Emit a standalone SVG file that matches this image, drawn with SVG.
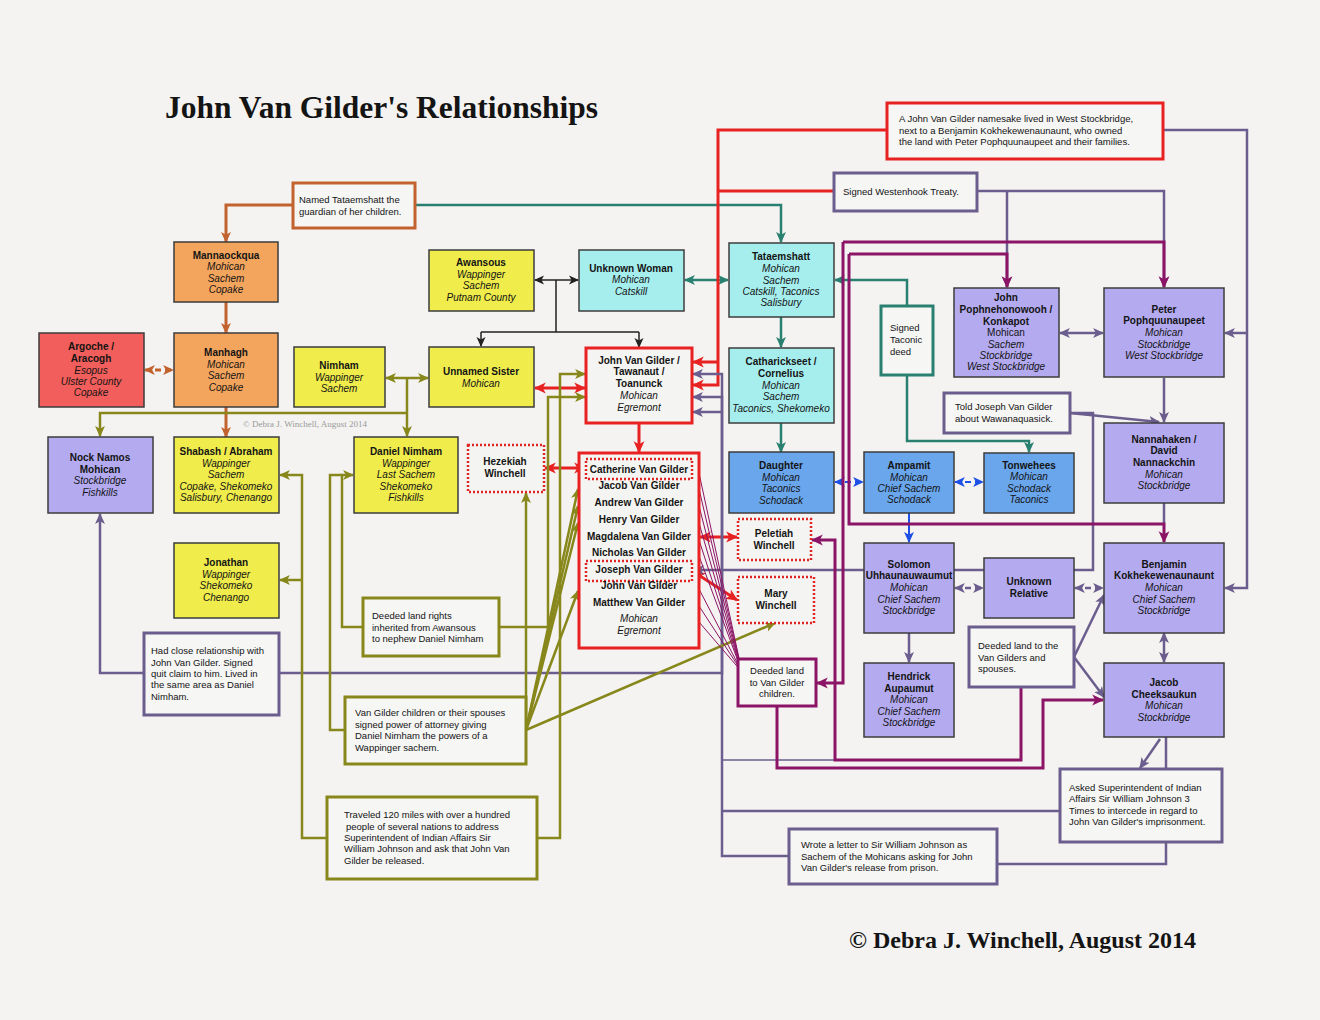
<svg xmlns="http://www.w3.org/2000/svg" width="1320" height="1020" viewBox="0 0 1320 1020">
<defs>
<style>
text{font-family:"Liberation Sans",Arial,sans-serif;font-size:10px;fill:#141414}
.c text{text-anchor:middle}
.b{font-weight:bold}
.i{font-style:italic}
.box{stroke:#3c3c3c;stroke-width:1.5}
.or{fill:#f3a55e}.rd{fill:#f25e5b}.ye{fill:#efec4c}.cy{fill:#a6eeee}.bl{fill:#6aa6ec}.pu{fill:#b3aaf0}
.note rect{fill:#f6f6f4;stroke-width:3}
.note text{font-size:9.5px}
.dot{fill:none;stroke:#e02424;stroke-width:2.5;stroke-dasharray:2 2}
#connectors path{fill:none}
.kOr{stroke:#c2622e;stroke-width:3}
.kTe{stroke:#2a8070;stroke-width:2.5}
.kBk{stroke:#222;stroke-width:1.5}
.kRd{stroke:#e82222;stroke-width:3}
.kPu{stroke:#6b5e8e;stroke-width:2.5}
.kBl{stroke:#1f50e6;stroke-width:2}
.kOl{stroke:#87871b;stroke-width:2.5}
.kMg{stroke:#8c1466;stroke-width:3}
.thin{stroke:#8c1466;stroke-width:1}
.dash{stroke-dasharray:6 4}
</style>
<marker id="mOr" viewBox="0 0 10 10" refX="9" refY="5" markerWidth="11" markerHeight="11" markerUnits="userSpaceOnUse" orient="auto-start-reverse"><path d="M0,0.5 L10,5 L0,9.5 L2.5,5z" fill="#c2622e"/></marker>
<marker id="mTe" viewBox="0 0 10 10" refX="9" refY="5" markerWidth="11" markerHeight="11" markerUnits="userSpaceOnUse" orient="auto-start-reverse"><path d="M0,0.5 L10,5 L0,9.5 L2.5,5z" fill="#2a8070"/></marker>
<marker id="mBk" viewBox="0 0 10 10" refX="9" refY="5" markerWidth="10" markerHeight="10" markerUnits="userSpaceOnUse" orient="auto-start-reverse"><path d="M0,0.5 L10,5 L0,9.5 L2.5,5z" fill="#222"/></marker>
<marker id="mRd" viewBox="0 0 10 10" refX="9" refY="5" markerWidth="12" markerHeight="12" markerUnits="userSpaceOnUse" orient="auto-start-reverse"><path d="M0,0.5 L10,5 L0,9.5 L2.5,5z" fill="#e82222"/></marker>
<marker id="mPu" viewBox="0 0 10 10" refX="9" refY="5" markerWidth="11" markerHeight="11" markerUnits="userSpaceOnUse" orient="auto-start-reverse"><path d="M0,0.5 L10,5 L0,9.5 L2.5,5z" fill="#6b5e8e"/></marker>
<marker id="mBl" viewBox="0 0 10 10" refX="9" refY="5" markerWidth="11" markerHeight="11" markerUnits="userSpaceOnUse" orient="auto-start-reverse"><path d="M0,0.5 L10,5 L0,9.5 L2.5,5z" fill="#1f50e6"/></marker>
<marker id="mOl" viewBox="0 0 10 10" refX="9" refY="5" markerWidth="11" markerHeight="11" markerUnits="userSpaceOnUse" orient="auto-start-reverse"><path d="M0,0.5 L10,5 L0,9.5 L2.5,5z" fill="#87871b"/></marker>
<marker id="mMg" viewBox="0 0 10 10" refX="9" refY="5" markerWidth="12" markerHeight="12" markerUnits="userSpaceOnUse" orient="auto-start-reverse"><path d="M0,0.5 L10,5 L0,9.5 L2.5,5z" fill="#8c1466"/></marker>
</defs>
<rect width="1320" height="1020" fill="#f4f3f1"/>
<text x="165" y="118" style="font-family:'Liberation Serif',serif;font-size:31px;font-weight:bold" textLength="433" lengthAdjust="spacingAndGlyphs">John Van Gilder's Relationships</text>
<text x="849" y="948" style="font-family:'Liberation Serif',serif;font-size:23px;font-weight:bold" textLength="347" lengthAdjust="spacingAndGlyphs">© Debra J. Winchell, August 2014</text>
<text x="243" y="427" style="font-family:'Liberation Serif',serif;font-size:9px;fill:#9a9a9a">© Debra J. Winchell, August 2014</text>

<g id="connectors">
<path class="kOr" d="M293,205 H226 V242" marker-end="url(#mOr)"/>
<path class="kOr" d="M226,302 V333" marker-end="url(#mOr)"/>
<path class="kOr" d="M226,407 V437" marker-end="url(#mOr)"/>
<path class="kOr dash" d="M145,370 H173" marker-start="url(#mOr)" marker-end="url(#mOr)"/>

<path class="kTe" d="M415,205 H781 V242" marker-end="url(#mTe)"/>
<path class="kTe" d="M781,317 V347" marker-end="url(#mTe)"/>
<path class="kTe" d="M781,423 V452" marker-end="url(#mTe)"/>
<path class="kTe" d="M685,280 H728" marker-start="url(#mTe)" marker-end="url(#mTe)"/>
<path class="kTe" d="M907,306 V280 H835" marker-end="url(#mTe)"/>
<path class="kTe" d="M907,375 V441 H1029 V452" marker-end="url(#mTe)"/>

<path class="kBk" d="M535,280 H578" marker-start="url(#mBk)" marker-end="url(#mBk)"/>
<path class="kBk" d="M556,280 V332 M481,332 H639"/>
<path class="kBk" d="M481,332 V346" marker-end="url(#mBk)"/>
<path class="kBk" d="M639,332 V347" marker-end="url(#mBk)"/>

<path class="kRd" d="M535,388 H585" marker-start="url(#mRd)" marker-end="url(#mRd)"/>
<path class="kRd" d="M639,423 V452" marker-end="url(#mRd)"/>
<path class="kRd" d="M545,468 H585" marker-start="url(#mRd)" marker-end="url(#mRd)"/>
<path class="kRd" d="M887,130 H718 V385 H693" marker-end="url(#mRd)"/>
<path class="kRd" d="M834,191 H718"/>
<path class="kRd" d="M718,362 H693" marker-end="url(#mRd)"/>
<path class="kRd" d="M700,537 H737" marker-start="url(#mRd)" marker-end="url(#mRd)"/>
<path class="kRd" d="M694,572 L737,600" marker-start="url(#mRd)" marker-end="url(#mRd)"/>

<path class="kPu" d="M977,191 H1164 V287" marker-end="url(#mPu)"/>
<path class="kPu" d="M1007,191 V287" marker-end="url(#mPu)"/>
<path class="kPu" d="M1164,130 H1247 V588 H1225" marker-end="url(#mPu)"/>
<path class="kPu" d="M1247,333 H1225" marker-end="url(#mPu)"/>
<path class="kPu" d="M1060,333 H1103" marker-start="url(#mPu)" marker-end="url(#mPu)"/>
<path class="kPu" d="M1164,378 V422" marker-end="url(#mPu)"/>
<path class="kPu" d="M1164,503 V523"/>
<path class="kPu" d="M1164,633 V662" marker-start="url(#mPu)" marker-end="url(#mPu)"/>
<path class="kPu" d="M1166,737 V769 M1166,843 V864 H998"/>
<path class="kPu" d="M1160,739 L1140,768" marker-end="url(#mPu)"/>
<path class="kPu" d="M1070,413 L1159,422" marker-end="url(#mPu)"/>
<path class="kPu" d="M1070,413 H1093 V570 H694" marker-end="url(#mPu)"/>
<path class="kPu dash" d="M955,588 H983" marker-start="url(#mPu)" marker-end="url(#mPu)"/>
<path class="kPu dash" d="M1075,588 H1103" marker-start="url(#mPu)" marker-end="url(#mPu)"/>
<path class="kPu" d="M909,633 V662" marker-end="url(#mPu)"/>
<path class="kPu" d="M1074,657 L1104,595" marker-end="url(#mPu)"/>
<path class="kPu" d="M1074,657 L1104,697" marker-end="url(#mPu)"/>
<path class="kPu" d="M144,673 H100 V514" marker-end="url(#mPu)"/>
<path class="kPu" d="M279,673 H722 V374 H693" marker-end="url(#mPu)"/>
<path class="kPu" d="M1059,811 H722"/>
<path class="kPu" d="M788,856 H722 V397 H693" marker-end="url(#mPu)"/>
<path class="kPu" d="M722,412 H693" marker-end="url(#mPu)"/>
<path class="kPu" style="stroke-width:1.5" d="M722,760 H835"/>

<path class="kBl dash" d="M835,482 H863" marker-start="url(#mBl)" marker-end="url(#mBl)"/>
<path class="kBl dash" d="M955,482 H983" marker-start="url(#mBl)" marker-end="url(#mBl)"/>
<path class="kBl" d="M909,513 V542" marker-end="url(#mBl)"/>

<path class="kOl" d="M386,378 H428" marker-start="url(#mOl)" marker-end="url(#mOl)"/>
<path class="kOl" d="M407,378 V436" marker-end="url(#mOl)"/>
<path class="kOl" d="M407,413 H100 V436" marker-end="url(#mOl)"/>
<path class="kOl" d="M326,838 H302 V475 H280" marker-end="url(#mOl)"/>
<path class="kOl" d="M302,580 H280" marker-end="url(#mOl)"/>
<path class="kOl" d="M537,838 H560 V374 H585" marker-end="url(#mOl)"/>
<path class="kOl" d="M363,627 H342 V475 H353" marker-end="url(#mOl)"/>
<path class="kOl" d="M345,730 H330 V475 H342"/>
<path class="kOl" d="M499,627 H548 V397 H585" marker-end="url(#mOl)"/>
<path class="kOl" d="M526,730 V493" marker-end="url(#mOl)"/>
<path class="kOl" d="M526,730 L578,489" marker-end="url(#mOl)"/>
<path class="kOl" d="M526,730 L578,506" marker-end="url(#mOl)"/>
<path class="kOl" d="M526,730 L578,523" marker-end="url(#mOl)"/>
<path class="kOl" d="M526,730 L578,591" marker-end="url(#mOl)"/>
<path class="kOl" d="M526,730 L775,623" marker-end="url(#mOl)"/>

<path class="kMg" d="M843,242 H1164 V287" marker-end="url(#mMg)"/>
<path class="kMg" d="M843,242 V683 H817" marker-end="url(#mMg)"/>
<path class="kMg" d="M849,254 H1007 V287" marker-end="url(#mMg)"/>
<path class="kMg" d="M849,254 V524 H1164 V542" marker-end="url(#mMg)"/>
<path class="kMg" d="M777,707 V768 H1043 V700 H1103" marker-end="url(#mMg)"/>
<path class="kMg" d="M1021,688 V760 H835 V540 H812" marker-end="url(#mMg)"/>
<path class="thin" d="M699,473 L742,672 M699,489 L742,672 M699,506 L742,672 M699,523 L742,672 M699,540 L742,672 M699,556 L742,672 M699,589 L742,672 M699,606 L742,672 M699,622 L742,672"/>
</g>

<g id="n-mannaockqua" class="c"><rect class="box or" x="174" y="242" width="104" height="60"/>
<text x="226" y="259" class="b">Mannaockqua</text><text x="226" y="270" class="i">Mohican</text><text x="226" y="282" class="i">Sachem</text><text x="226" y="293" class="i">Copake</text></g>

<g id="n-manhagh" class="c"><rect class="box or" x="174" y="333" width="104" height="74"/>
<text x="226" y="356" class="b">Manhagh</text><text x="226" y="368" class="i">Mohican</text><text x="226" y="379" class="i">Sachem</text><text x="226" y="391" class="i">Copake</text></g>

<g id="n-argoche" class="c"><rect class="box rd" x="39" y="333" width="105" height="74"/>
<text x="91" y="350" class="b">Argoche /</text><text x="91" y="362" class="b">Aracogh</text><text x="91" y="374" class="i">Esopus</text><text x="91" y="385" class="i">Ulster County</text><text x="91" y="396" class="i">Copake</text></g>

<g id="n-nimham" class="c"><rect class="box ye" x="294" y="347" width="91" height="60"/>
<text x="339" y="369" class="b">Nimham</text><text x="339" y="381" class="i">Wappinger</text><text x="339" y="392" class="i">Sachem</text></g>

<g id="n-awansous" class="c"><rect class="box ye" x="429" y="250" width="105" height="61"/>
<text x="481" y="266" class="b">Awansous</text><text x="481" y="278" class="i">Wappinger</text><text x="481" y="289" class="i">Sachem</text><text x="481" y="301" class="i">Putnam County</text></g>

<g id="n-unnamed-sister" class="c"><rect class="box ye" x="429" y="347" width="105" height="60"/>
<text x="481" y="375" class="b">Unnamed Sister</text><text x="481" y="387" class="i">Mohican</text></g>

<g id="n-nock-namos" class="c"><rect class="box pu" x="48" y="437" width="105" height="76"/>
<text x="100" y="461" class="b">Nock Namos</text><text x="100" y="473" class="b">Mohican</text><text x="100" y="484" class="i">Stockbridge</text><text x="100" y="496" class="i">Fishkills</text></g>

<g id="n-shabash" class="c"><rect class="box ye" x="174" y="437" width="105" height="76"/>
<text x="226" y="455" class="b">Shabash / Abraham</text><text x="226" y="467" class="i">Wappinger</text><text x="226" y="478" class="i">Sachem</text><text x="226" y="490" class="i">Copake, Shekomeko</text><text x="226" y="501" class="i">Salisbury, Chenango</text></g>

<g id="n-daniel-nimham" class="c"><rect class="box ye" x="354" y="437" width="104" height="76"/>
<text x="406" y="455" class="b">Daniel Nimham</text><text x="406" y="467" class="i">Wappinger</text><text x="406" y="478" class="i">Last Sachem</text><text x="406" y="490" class="i">Shekomeko</text><text x="406" y="501" class="i">Fishkills</text></g>

<g id="n-jonathan" class="c"><rect class="box ye" x="174" y="543" width="105" height="75"/>
<text x="226" y="566" class="b">Jonathan</text><text x="226" y="578" class="i">Wappinger</text><text x="226" y="589" class="i">Shekomeko</text><text x="226" y="601" class="i">Chenango</text></g>

<g id="n-unknown-woman" class="c"><rect class="box cy" x="579" y="250" width="105" height="61"/>
<text x="631" y="272" class="b">Unknown Woman</text><text x="631" y="283" class="i">Mohican</text><text x="631" y="295" class="i">Catskill</text></g>

<g id="n-john-van-gilder" class="c"><rect x="586" y="348" width="106" height="75" fill="#f4f4f2" stroke="#e82222" stroke-width="3"/>
<text x="639" y="364" class="b">John Van Gilder /</text><text x="639" y="375" class="b">Tawanaut /</text><text x="639" y="387" class="b">Toanunck</text><text x="639" y="399" class="i">Mohican</text><text x="639" y="411" class="i">Egremont</text></g>

<g id="n-children" class="c"><rect x="579" y="453" width="120" height="195" fill="#f4f4f2" stroke="#e82222" stroke-width="3"/>
<rect class="dot" x="586" y="459" width="106" height="20"/>
<rect class="dot" x="586" y="561" width="106" height="20"/>
<text x="639" y="473" class="b">Catherine Van Gilder</text><text x="639" y="489" class="b">Jacob Van Gilder</text><text x="639" y="506" class="b">Andrew Van Gilder</text><text x="639" y="523" class="b">Henry Van Gilder</text><text x="639" y="540" class="b">Magdalena Van Gilder</text><text x="639" y="556" class="b">Nicholas Van Gilder</text><text x="639" y="573" class="b">Joseph Van Gilder</text><text x="639" y="589" class="b">John Van Gilder</text><text x="639" y="606" class="b">Matthew Van Gilder</text><text x="639" y="622" class="i">Mohican</text><text x="639" y="634" class="i">Egremont</text></g>

<g id="n-hezekiah" class="c"><rect class="dot" x="468" y="445" width="76" height="47" style="fill:#f4f4f2"/>
<text x="505" y="465" class="b">Hezekiah</text><text x="505" y="477" class="b">Winchell</text></g>

<g id="n-peletiah" class="c"><rect class="dot" x="738" y="519" width="73" height="41" style="fill:#f4f4f2"/>
<text x="774" y="537" class="b">Peletiah</text><text x="774" y="549" class="b">Winchell</text></g>

<g id="n-mary" class="c"><rect class="dot" x="738" y="577" width="76" height="46" style="fill:#f4f4f2"/>
<text x="776" y="597" class="b">Mary</text><text x="776" y="609" class="b">Winchell</text></g>

<g id="n-tataemshatt" class="c"><rect class="box cy" x="729" y="243" width="105" height="74"/>
<text x="781" y="260" class="b">Tataemshatt</text><text x="781" y="272" class="i">Mohican</text><text x="781" y="284" class="i">Sachem</text><text x="781" y="295" class="i">Catskill, Taconics</text><text x="781" y="306" class="i">Salisbury</text></g>

<g id="n-catharickseet" class="c"><rect class="box cy" x="729" y="348" width="105" height="75"/>
<text x="781" y="365" class="b">Catharickseet /</text><text x="781" y="377" class="b">Cornelius</text><text x="781" y="389" class="i">Mohican</text><text x="781" y="400" class="i">Sachem</text><text x="781" y="412" class="i">Taconics, Shekomeko</text></g>

<g id="n-daughter" class="c"><rect class="box bl" x="729" y="452" width="105" height="61"/>
<text x="781" y="469" class="b">Daughter</text><text x="781" y="481" class="i">Mohican</text><text x="781" y="492" class="i">Taconics</text><text x="781" y="504" class="i">Schodack</text></g>

<g id="n-ampamit" class="c"><rect class="box bl" x="864" y="452" width="90" height="61"/>
<text x="909" y="469" class="b">Ampamit</text><text x="909" y="481" class="i">Mohican</text><text x="909" y="492" class="i">Chief Sachem</text><text x="909" y="503" class="i">Schodack</text></g>

<g id="n-tonwehees" class="c"><rect class="box bl" x="984" y="453" width="90" height="60"/>
<text x="1029" y="469" class="b">Tonwehees</text><text x="1029" y="480" class="i">Mohican</text><text x="1029" y="492" class="i">Schodack</text><text x="1029" y="503" class="i">Taconics</text></g>

<g id="n-john-pophnehonowooh" class="c"><rect class="box pu" x="954" y="288" width="105" height="89"/>
<text x="1006" y="301" class="b">John</text><text x="1006" y="313" class="b">Pophnehonowooh /</text><text x="1006" y="325" class="b">Konkapot</text><text x="1006" y="336">Mohican</text><text x="1006" y="348" class="i">Sachem</text><text x="1006" y="359" class="i">Stockbridge</text><text x="1006" y="370" class="i">West Stockbridge</text></g>

<g id="n-peter" class="c"><rect class="box pu" x="1104" y="288" width="120" height="89"/>
<text x="1164" y="313" class="b">Peter</text><text x="1164" y="324" class="b">Pophquunaupeet</text><text x="1164" y="336" class="i">Mohican</text><text x="1164" y="348" class="i">Stockbridge</text><text x="1164" y="359" class="i">West Stockbridge</text></g>

<g id="n-nannahaken" class="c"><rect class="box pu" x="1104" y="423" width="120" height="80"/>
<text x="1164" y="443" class="b">Nannahaken /</text><text x="1164" y="454" class="b">David</text><text x="1164" y="466" class="b">Nannackchin</text><text x="1164" y="478" class="i">Mohican</text><text x="1164" y="489" class="i">Stockbridge</text></g>

<g id="n-benjamin" class="c"><rect class="box pu" x="1104" y="543" width="120" height="90"/>
<text x="1164" y="568" class="b">Benjamin</text><text x="1164" y="579" class="b">Kokhekewenaunaunt</text><text x="1164" y="591" class="i">Mohican</text><text x="1164" y="603" class="i">Chief Sachem</text><text x="1164" y="614" class="i">Stockbridge</text></g>

<g id="n-jacob-cheeksaukun" class="c"><rect class="box pu" x="1104" y="663" width="120" height="74"/>
<text x="1164" y="686" class="b">Jacob</text><text x="1164" y="698" class="b">Cheeksaukun</text><text x="1164" y="709" class="i">Mohican</text><text x="1164" y="721" class="i">Stockbridge</text></g>

<g id="n-solomon" class="c"><rect class="box pu" x="864" y="543" width="90" height="90"/>
<text x="909" y="568" class="b">Solomon</text><text x="909" y="579" class="b">Uhhaunauwaumut</text><text x="909" y="591" class="i">Mohican</text><text x="909" y="603" class="i">Chief Sachem</text><text x="909" y="614" class="i">Stockbridge</text></g>

<g id="n-unknown-relative" class="c"><rect class="box pu" x="984" y="558" width="90" height="60"/>
<text x="1029" y="585" class="b">Unknown</text><text x="1029" y="597" class="b">Relative</text></g>

<g id="n-hendrick" class="c"><rect class="box pu" x="864" y="663" width="90" height="74"/>
<text x="909" y="680" class="b">Hendrick</text><text x="909" y="692" class="b">Aupaumut</text><text x="909" y="703" class="i">Mohican</text><text x="909" y="715" class="i">Chief Sachem</text><text x="909" y="726" class="i">Stockbridge</text></g>

<g id="note-named-tataemshatt" class="note"><rect x="293" y="183" width="122" height="45" stroke="#c2622e"/>
<text x="299" y="203">Named Tataemshatt the</text><text x="299" y="215">guardian of her children.</text></g>

<g id="note-namesake" class="note"><rect x="887" y="103" width="276" height="56" stroke="#e82222"/>
<text x="899" y="122">A John Van Gilder namesake lived in West Stockbridge,</text><text x="899" y="134">next to a Benjamin Kokhekewenaunaunt, who owned</text><text x="899" y="145">the land with Peter Pophquunaupeet and their families.</text></g>

<g id="note-westenhook" class="note"><rect x="834" y="173" width="143" height="38" stroke="#6b5e8e"/>
<text x="843" y="195">Signed Westenhook Treaty.</text></g>

<g id="note-taconic" class="note"><rect x="881" y="306" width="52" height="69" stroke="#2a8070"/>
<text x="890" y="331">Signed</text><text x="890" y="343">Taconic</text><text x="890" y="355">deed</text></g>

<g id="note-told-joseph" class="note"><rect x="944" y="393" width="126" height="40" stroke="#6b5e8e"/>
<text x="955" y="410">Told Joseph Van Gilder</text><text x="955" y="422">about Wawanaquasick.</text></g>

<g id="note-deeded-children" class="note c"><rect x="738" y="659" width="78" height="47" stroke="#8c1466"/>
<text x="777" y="674">Deeded land</text><text x="777" y="686">to Van Gilder</text><text x="777" y="697">children.</text></g>

<g id="note-deeded-spouses" class="note"><rect x="969" y="627" width="105" height="60" stroke="#6b5e8e"/>
<text x="978" y="649">Deeded land to the</text><text x="978" y="661">Van Gilders and</text><text x="978" y="672">spouses.</text></g>

<g id="note-close-relationship" class="note"><rect x="144" y="633" width="135" height="82" stroke="#6b5e8e"/>
<text x="151" y="654">Had close relationship with</text><text x="151" y="666">John Van Gilder.  Signed</text><text x="151" y="677">quit claim to him.  Lived in</text><text x="151" y="688">the same area as Daniel</text><text x="151" y="700">Nimham.</text></g>

<g id="note-deeded-rights" class="note"><rect x="363" y="598" width="136" height="58" stroke="#87871b"/>
<text x="372" y="619">Deeded land rights</text><text x="372" y="631">inherited from Awansous</text><text x="372" y="642">to nephew Daniel Nimham</text></g>

<g id="note-power-of-attorney" class="note"><rect x="345" y="697" width="181" height="67" stroke="#87871b"/>
<text x="355" y="716">Van Gilder children or their spouses</text><text x="355" y="728">signed power of attorney giving</text><text x="355" y="739">Daniel Nimham the powers of a</text><text x="355" y="751">Wappinger sachem.</text></g>

<g id="note-traveled" class="note"><rect x="327" y="797" width="210" height="82" stroke="#87871b"/>
<text x="344" y="818">Traveled 120 miles with over a hundred</text><text x="346" y="830">people of several nations to address</text><text x="344" y="841">Superintendent of Indian Affairs Sir</text><text x="344" y="852">William Johnson and ask that John Van</text><text x="344" y="864">Gilder be released.</text></g>

<g id="note-asked" class="note"><rect x="1060" y="769" width="162" height="73" stroke="#6b5e8e"/>
<text x="1069" y="791">Asked Superintendent of Indian</text><text x="1069" y="802">Affairs Sir William Johnson 3</text><text x="1069" y="814">Times to intercede in regard to</text><text x="1069" y="825">John Van Gilder's imprisonment.</text></g>

<g id="note-wrote" class="note"><rect x="789" y="829" width="208" height="55" stroke="#6b5e8e"/>
<text x="801" y="848">Wrote a letter to Sir William Johnson as</text><text x="801" y="860">Sachem of the Mohicans asking for John</text><text x="801" y="871">Van Gilder's release from prison.</text></g>
</svg>
